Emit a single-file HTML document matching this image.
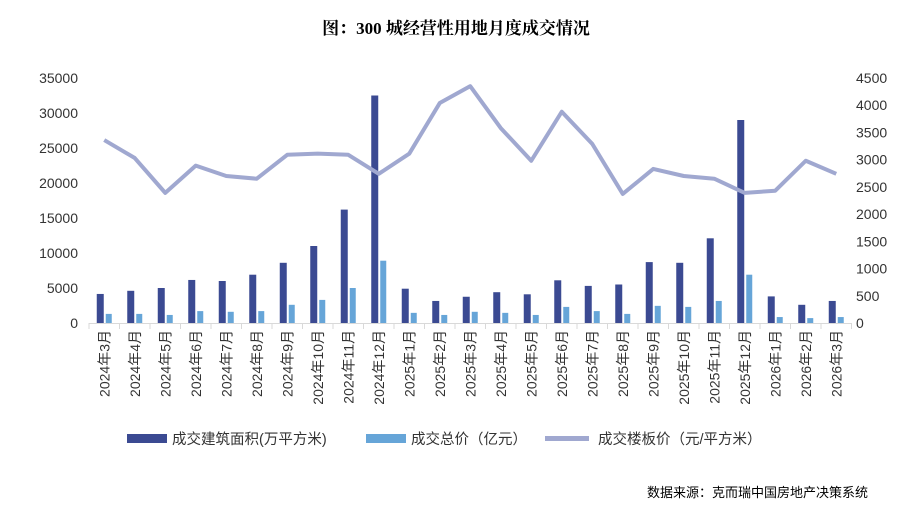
<!DOCTYPE html>
<html><head><meta charset="utf-8">
<style>
body{margin:0;background:#fff;width:913px;height:502px;overflow:hidden;font-family:"Liberation Sans","Noto Sans CJK SC",sans-serif;}
</style></head>
<body>
<svg id="chart" width="913" height="502" xmlns="http://www.w3.org/2000/svg">
<text x="456" y="34" text-anchor="middle" font-size="17" font-weight="bold" font-family="Liberation Serif,Noto Serif CJK SC,serif" fill="#000">图：300 城经营性用地月度成交情况</text>
<g id="axes"></g><g id="marks"></g>
<g>
<rect x="127" y="434" width="40" height="9" fill="#3b4a92"/>
<text x="172" y="444" font-size="14.5" fill="#333">成交建筑面积(万平方米)</text>
<rect x="366" y="434" width="40" height="9" fill="#66a5d8"/>
<text x="411" y="444" font-size="14.5" fill="#333">成交总价（亿元）</text>
<line x1="545" y1="438.5" x2="589" y2="438.5" stroke="#a0a8d0" stroke-width="5"/>
<text x="598" y="444" font-size="14.5" fill="#333">成交楼板价（元/平方米）</text>
</g>
<text x="868" y="497" text-anchor="end" font-size="13" fill="#000">数据来源：克而瑞中国房地产决策系统</text>
</svg>
<script>
const categories=["2024年3月","2024年4月","2024年5月","2024年6月","2024年7月","2024年8月","2024年9月","2024年10月","2024年11月","2024年12月","2025年1月","2025年2月","2025年3月","2025年4月","2025年5月","2025年6月","2025年7月","2025年8月","2025年9月","2025年10月","2025年11月","2025年12月","2026年1月","2026年2月","2026年3月"];
const areaValues=[4150,4600,5000,6150,6000,6900,8600,11000,16200,32500,4900,3150,3750,4400,4100,6100,5300,5500,8700,8600,12100,29000,3800,2600,3150];
const priceValues=[1300,1300,1150,1700,1600,1700,2600,3300,5000,8900,1450,1150,1600,1450,1150,2300,1700,1300,2450,2300,3150,6900,850,700,850];
const unitValues=[3360,3030,2390,2890,2700,2650,3090,3110,3090,2740,3110,4040,4350,3580,2980,3880,3290,2370,2830,2700,2650,2390,2430,2980,2740];
const leftTicks=[0,5000,10000,15000,20000,25000,30000,35000];
const rightTicks=[0,500,1000,1500,2000,2500,3000,3500,4000,4500];
const NS="http://www.w3.org/2000/svg";
const X0=89,CW=30.5,Y0=323,H=245;
const yL=v=>Y0-v/35000*H, yR=v=>Y0-v/4500*H, xc=i=>X0+CW*(i+0.5);
function mk(t,a,p){const e=document.createElementNS(NS,t);for(const k in a)e.setAttribute(k,a[k]);p.appendChild(e);return e;}
const ax=document.getElementById('axes'),mg=document.getElementById('marks');
leftTicks.forEach(v=>{const t=mk('text',{x:78,y:yL(v)+5,'text-anchor':'end','font-size':14,fill:'#333'},ax);t.textContent=v;

});
rightTicks.forEach(v=>{const t=mk('text',{x:856,y:yR(v)+5,'font-size':14,fill:'#333'},ax);t.textContent=v;

});
const base=mk('line',{x1:X0,y1:Y0+0.5,x2:X0+CW*categories.length,y2:Y0+0.5,stroke:'#d9d9d9','stroke-width':1},ax);


for(let i=0;i<=categories.length;i++){const l=mk('line',{x1:X0+CW*i,y1:Y0,x2:X0+CW*i,y2:Y0+6,stroke:'#d9d9d9'},ax);

}
categories.forEach((c,i)=>{const x=xc(i);const t=mk('text',{x:0,y:0,'text-anchor':'end','font-size':14,fill:'#333',transform:`translate(${x+5},330) rotate(-90)`},ax);t.textContent=c;

});
areaValues.forEach((v,i)=>{const r=mk('rect',{x:xc(i)-7.5,y:yL(v),width:7,height:Y0-yL(v),fill:'#3b4a92'},mg);

});
priceValues.forEach((v,i)=>{const r=mk('rect',{x:xc(i)+1.5,y:yL(v),width:6,height:Y0-yL(v),fill:'#66a5d8'},mg);

});
const pl=mk('polyline',{points:unitValues.map((v,i)=>xc(i)+','+yR(v)).join(' '),fill:'none',stroke:'#a0a8d0','stroke-width':4,'stroke-linejoin':'round'},mg);


</script>
</body></html>
